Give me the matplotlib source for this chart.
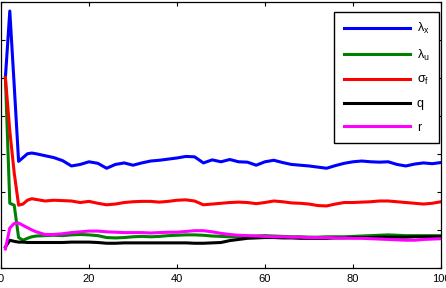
import numpy as np
import matplotlib
matplotlib.use("Agg")
import matplotlib.pyplot as plt

plt.rcParams['font.family'] = ['Liberation Sans', 'DejaVu Sans']
plt.rcParams['mathtext.fontset'] = 'custom'
plt.rcParams['mathtext.rm'] = 'Liberation Sans'
plt.rcParams['mathtext.it'] = 'Liberation Sans'

# iteration index (dense at the start where the curves drop)
it = [1, 2, 3, 4, 5, 6, 7, 8, 10, 12, 14, 16, 18, 20, 22, 24, 26, 28, 30,
      32, 34, 36, 38, 40, 42, 44, 46, 48, 50, 52, 54, 56, 58, 60, 62, 64,
      66, 68, 70, 72, 74, 76, 78, 80, 82, 84, 86, 88, 90, 92, 94, 96, 98, 100]

lambda_x = [0.50, 0.675, 0.48, 0.28, 0.29, 0.30, 0.302, 0.30, 0.295, 0.29,
            0.282, 0.268, 0.272, 0.279, 0.275, 0.262, 0.272, 0.276, 0.27,
            0.276, 0.281, 0.283, 0.286, 0.289, 0.293, 0.292, 0.276, 0.284,
            0.279, 0.285, 0.279, 0.278, 0.27, 0.279, 0.283, 0.277, 0.272,
            0.27, 0.268, 0.265, 0.262, 0.269, 0.275, 0.279, 0.281, 0.279,
            0.278, 0.279, 0.272, 0.268, 0.273, 0.276, 0.274, 0.277]

lambda_u = [0.50, 0.17, 0.165, 0.08, 0.073, 0.078, 0.082, 0.084, 0.085,
            0.086, 0.085, 0.087, 0.088, 0.087, 0.085, 0.08, 0.079, 0.08,
            0.082, 0.083, 0.082, 0.083, 0.085, 0.086, 0.087, 0.087, 0.086,
            0.084, 0.083, 0.082, 0.082, 0.083, 0.084, 0.085, 0.084, 0.083,
            0.082, 0.082, 0.081, 0.081, 0.082, 0.082, 0.082, 0.083, 0.084,
            0.085, 0.086, 0.087, 0.086, 0.085, 0.085, 0.085, 0.085, 0.085]

sigma_f = [0.50, 0.36, 0.25, 0.165, 0.168, 0.178, 0.182, 0.18, 0.176, 0.178,
           0.177, 0.176, 0.172, 0.175, 0.17, 0.166, 0.168, 0.172, 0.174,
           0.175, 0.175, 0.173, 0.175, 0.178, 0.179, 0.176, 0.166, 0.168,
           0.17, 0.172, 0.173, 0.172, 0.169, 0.172, 0.176, 0.174, 0.171,
           0.17, 0.168, 0.164, 0.163, 0.168, 0.172, 0.172, 0.173, 0.174,
           0.176, 0.176, 0.174, 0.172, 0.17, 0.168, 0.17, 0.174]

q = [0.055, 0.073, 0.07, 0.068, 0.068, 0.067, 0.067, 0.067, 0.067, 0.067,
     0.067, 0.068, 0.068, 0.068, 0.067, 0.065, 0.065, 0.066, 0.066, 0.066,
     0.066, 0.066, 0.066, 0.066, 0.066, 0.065, 0.065, 0.066, 0.067, 0.072,
     0.075, 0.078, 0.079, 0.08, 0.08, 0.079, 0.079, 0.078, 0.078, 0.078,
     0.078, 0.079, 0.079, 0.08, 0.08, 0.08, 0.081, 0.081, 0.081, 0.081,
     0.082, 0.082, 0.082, 0.082]

r = [0.05, 0.105, 0.117, 0.118, 0.112, 0.106, 0.10, 0.095, 0.088, 0.088,
     0.09, 0.093, 0.095, 0.097, 0.097, 0.095, 0.094, 0.093, 0.093, 0.093,
     0.092, 0.093, 0.094, 0.094, 0.096, 0.098, 0.098, 0.095, 0.091, 0.088,
     0.086, 0.085, 0.084, 0.083, 0.082, 0.082, 0.081, 0.081, 0.08, 0.08,
     0.08, 0.079, 0.079, 0.078, 0.078, 0.077, 0.076, 0.075, 0.074, 0.073,
     0.073, 0.075, 0.076, 0.077]

series = [(lambda_x, 'blue', r'$\lambda_x$'),
          (lambda_u, (0, 0.5, 0), r'$\lambda_u$'),
          (sigma_f, 'red', r'$\sigma_f$'),
          (q, 'black', 'q'),
          (r, 'magenta', 'r')]

fig = plt.figure(figsize=(4.46, 2.88), dpi=100)
ax = fig.add_axes([1/446, 20/288, 440/446, 266.5/288])

for vals, col, lab in series:
    ax.plot(it, vals, color=col, lw=2.2, label=lab)

ax.set_xlim(0, 100)
ax.set_ylim(0, 0.7)
ax.set_xticks([0, 20, 40, 60, 80, 100])
ax.set_yticks(np.arange(0, 0.71, 0.1))
ax.set_yticklabels([])
ax.tick_params(direction='in', top=True, right=True, length=3, width=0.8,
               labelsize=8, pad=4)
for s in ax.spines.values():
    s.set_linewidth(0.9)

leg = ax.legend(loc='upper right', bbox_to_anchor=(0.995, 0.961),
                borderaxespad=0, fontsize=9, handlelength=5.3,
                handletextpad=0.55, labelspacing=0.9, fancybox=False,
                framealpha=1, edgecolor='black', borderpad=0.75)
leg.get_frame().set_linewidth(1.0)

fig.savefig('out.png', dpi=100)
